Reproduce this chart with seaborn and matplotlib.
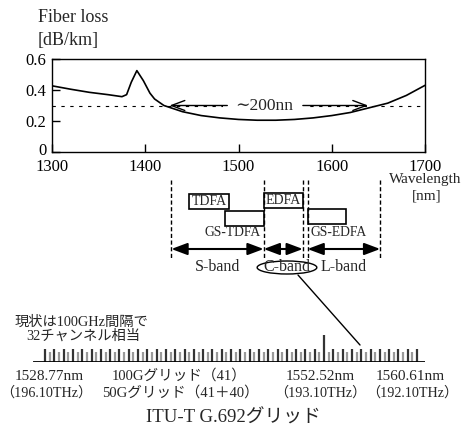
import numpy as np
import pandas as pd
import matplotlib.pyplot as plt
import matplotlib.transforms as mtransforms
import seaborn as sns
from matplotlib.patches import Rectangle, Ellipse

# fiber loss curve
wavelength_nm = [1300, 1320, 1340, 1360, 1375, 1380, 1385, 1391, 1398, 1405, 1410,
                 1420, 1440, 1460, 1480, 1500, 1520, 1540, 1560, 1580, 1600,
                 1620, 1640, 1660, 1680, 1700]
loss_db_km = [0.427, 0.405, 0.385, 0.37, 0.357, 0.37, 0.45, 0.525, 0.46, 0.38, 0.342,
              0.30, 0.26, 0.235, 0.22, 0.21, 0.205, 0.205, 0.21, 0.22, 0.235,
              0.255, 0.285, 0.315, 0.365, 0.43]
loss_threshold = 0.3

# bands and amplifiers (nm, schematic)
band_names = ['S-band', 'C-band', 'L-band']
band_start = [1428, 1527, 1574]
band_end = [1527, 1569, 1652]
amp_names = ['TDFA', 'GS-TDFA', 'EDFA', 'GS-EDFA']
amp_start = [1447, 1486, 1527, 1574]
amp_end = [1490, 1527, 1569, 1615]

# ITU-T G.692 grid, 50 GHz spacing
grid_thz = np.round(np.arange(196.10, 192.05, -0.05), 2)
grid_100g = np.isclose((grid_thz * 10) % 1, 0) | np.isclose((grid_thz * 10) % 1, 1)
highlight_thz = 193.10

sns.set_theme(style='white')
plt.rcParams['font.family'] = ['Liberation Serif', 'Noto Sans CJK JP']
plt.rcParams['axes.unicode_minus'] = False

W, H = 463, 430
fig = plt.figure(figsize=(W / 100, H / 100), dpi=100)


def box(x0, y0, x1, y1):
    return [x0 / W, 1 - y1 / H, (x1 - x0) / W, (y1 - y0) / H]


# ---- top chart ----
ax = fig.add_axes(box(52, 59, 425, 152))
df = pd.DataFrame({'wl': wavelength_nm, 'loss': loss_db_km})
sns.lineplot(data=df, x='wl', y='loss', color='black', lw=1.2, ax=ax, zorder=5)
ax.axhline(loss_threshold, color='black', lw=0.8, ls=(0, (3, 5)), zorder=1)
ax.set_xlim(1300, 1700)
ax.set_ylim(0, 0.6)
ax.set_xticks([1300, 1400, 1500, 1600, 1700])
ax.set_yticks([0, 0.2, 0.4, 0.6])
ax.set_yticklabels(['0', '0.2', '0.4', '0.6'])
ax.set_xlabel('')
ax.set_ylabel('')
ax.tick_params(direction='in', length=6, width=1, labelsize=12,
               colors='black', bottom=True, left=True)
ax.tick_params(axis='x', pad=5)
ax.tick_params(axis='y', pad=4)
# lift the "0" label a little so it clears "1300"
zero_lbl = ax.get_yticklabels()[0]
zero_lbl.set_transform(zero_lbl.get_transform() +
                       mtransforms.ScaledTranslation(0, 3 / 100, fig.dpi_scale_trans))
for s in ax.spines.values():
    s.set_color('black')
    s.set_linewidth(1)
ax.text(1528, loss_threshold, '∼200nn', ha='center', va='center', fontsize=12.5,
        family=['Liberation Serif', 'DejaVu Serif'], zorder=2,
        bbox=dict(boxstyle='square,pad=0.7', fc='white', ec='none'))
ax.annotate('', xy=(1426, loss_threshold), xytext=(1488, loss_threshold), zorder=6,
            arrowprops=dict(arrowstyle='->,head_length=0.8,head_width=0.3', lw=1,
                            color='black', shrinkA=0, shrinkB=0))
ax.annotate('', xy=(1639, loss_threshold), xytext=(1569, loss_threshold), zorder=6,
            arrowprops=dict(arrowstyle='->,head_length=0.8,head_width=0.3', lw=1,
                            color='black', shrinkA=0, shrinkB=0))

# ---- band diagram (x in nm, y in pixels) ----
dg = fig.add_axes(box(52, 0, 425, 430))
dg.set_xlim(1300, 1700)
dg.set_ylim(H, 0)
dg.axis('off')

for x in sorted(set(band_start + band_end)):
    dg.plot([x, x], [180, 258], color='black', lw=1, ls=(0, (3, 1.8)))

amp_rows = [(194, 209), (211, 226), (193, 208), (209, 224)]
gs_label_x = {'GS-TDFA': 1493.5, 'GS-EDFA': 1607}
for name, a0, a1, (y0, y1) in zip(amp_names, amp_start, amp_end, amp_rows):
    dg.add_patch(Rectangle((a0, y0), a1 - a0, y1 - y0, fill=False, ec='black', lw=1.2))
    if name in gs_label_x:
        dg.text(gs_label_x[name], 233, name, ha='center', va='center', fontsize=9.8)
    else:
        dg.text((a0 + a1) / 2, (y0 + y1) / 2, name, ha='center', va='center', fontsize=10)

band_label_dx = [0, 4, 0]
for name, b0, b1, dx in zip(band_names, band_start, band_end, band_label_dx):
    dg.annotate('', xy=(b0, 249), xytext=(b1, 249),
                arrowprops=dict(arrowstyle='<|-|>,head_length=0.8,head_width=0.3',
                                lw=1.5, color='black', shrinkA=0, shrinkB=0))
    dg.text((b0 + b1) / 2 + dx, 267, name, ha='center', va='center', fontsize=11.5)
dg.add_patch(Ellipse((1552, 267.5), 64, 13, fill=False, ec='black', lw=1))

# ---- overlay in pixels ----
ov = fig.add_axes([0, 0, 1, 1])
ov.set_xlim(0, W)
ov.set_ylim(H, 0)
ov.axis('off')
ov.text(38, 18, 'Fiber loss', ha='left', va='center', fontsize=13)
ov.text(38, 41, '[dB/km]', ha='left', va='center', fontsize=13)
ov.text(425, 180, 'Wavelength', ha='center', va='center', fontsize=11)
ov.text(427, 196, '[nm]', ha='center', va='center', fontsize=11)
ov.plot([298, 360], [275, 345], color='black', lw=1)
ov.text(81, 322, '現状は100GHz間隔で', ha='center', va='center', fontsize=10.3)
ov.text(83, 336, '32チャンネル相当', ha='center', va='center', fontsize=10.3)
ov.text(49, 376, '1528.77nm', ha='center', va='center', fontsize=11)
ov.text(46, 393, '（196.10THz）', ha='center', va='center', fontsize=10.2)
ov.text(179, 376, '100Gグリッド（41）', ha='center', va='center', fontsize=10.5)
ov.text(180, 393, '50Gグリッド（41＋40）', ha='center', va='center', fontsize=10.5)
ov.text(320, 376, '1552.52nm', ha='center', va='center', fontsize=11)
ov.text(320, 393, '（193.10THz）', ha='center', va='center', fontsize=10.2)
ov.text(410, 376, '1560.61nm', ha='center', va='center', fontsize=11)
ov.text(412, 393, '（192.10THz）', ha='center', va='center', fontsize=10.2)
ov.text(233, 418, 'ITU-T G.692グリッド', ha='center', va='center', fontsize=13.5)

# ---- channel comb ----
cb = fig.add_axes(box(33, 335, 425, 362))
idx = np.arange(len(grid_thz))
heights = np.where(grid_100g, 13, 10).astype(float)
heights[np.isclose(grid_thz, highlight_thz)] = 27
colors = np.where(grid_100g, '#333333', '#999999')
cb.vlines(idx, 0, heights, colors=colors, lw=1.6)
cb.set_xlim(-2.6, 81.7)
cb.set_ylim(0, 27)
cb.axhline(0, color='black', lw=2)
cb.axis('off')

fig.savefig('out.png', dpi=100)
